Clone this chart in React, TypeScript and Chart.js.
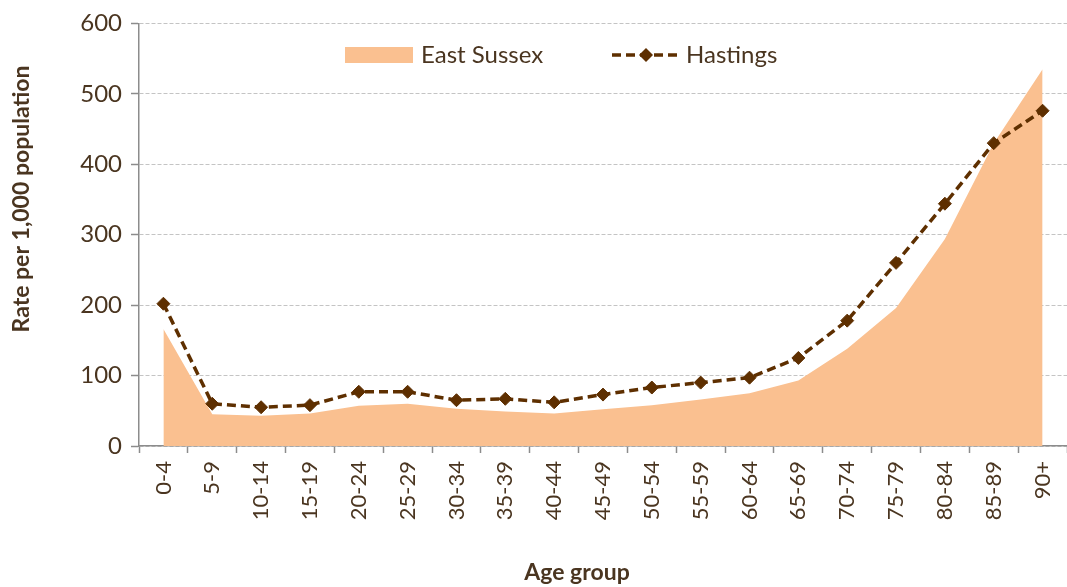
import React, { useEffect, useRef } from "react";
import { Chart, registerables } from "chart.js";

Chart.register(...registerables);

const ageGroups = [
  "0-4", "5-9", "10-14", "15-19", "20-24", "25-29", "30-34", "35-39", "40-44",
  "45-49", "50-54", "55-59", "60-64", "65-69", "70-74", "75-79", "80-84", "85-89", "90+",
];
const eastSussex = [166, 45, 43, 46, 57, 60, 53, 49, 46, 52, 58, 66, 75, 93, 138, 196, 294, 430, 535];
const hastings = [202, 60, 55, 58, 77, 77, 65, 67, 62, 73, 83, 90, 97, 125, 178, 260, 344, 430, 476];
const yMin = 0;
const yMax = 600;
const yStep = 100;

const seriesNames = ["East Sussex", "Hastings"];
const axisTitles = { x: "Age group", y: "Rate per 1,000 population" };

const FILL = "#FAC090";
const LINE = "#5E2F00";
const TEXT = "#4A3520";
const AXIS = "#8C8C8C";
const GRID = "#C4C4C4";
const FONT = "Lato, 'Open Sans', sans-serif";

const overlayPlugin = {
  id: "overlay",
  afterDraw(chart: any) {
    const ctx = chart.ctx as CanvasRenderingContext2D;
    const a = chart.chartArea;
    ctx.save();
    const ly = 55;
    // East Sussex legend
    ctx.fillStyle = FILL;
    ctx.fillRect(a.left + 206, ly - 8, 68, 16);
    ctx.font = `24px ${FONT}`;
    ctx.fillStyle = TEXT;
    ctx.textBaseline = "middle";
    ctx.textAlign = "left";
    ctx.fillText(seriesNames[0], a.left + 282, ly);
    // Hastings legend
    ctx.strokeStyle = LINE;
    ctx.lineWidth = 3.5;
    ctx.setLineDash([9, 5]);
    ctx.beginPath();
    ctx.moveTo(a.left + 473, ly);
    ctx.lineTo(a.left + 541, ly);
    ctx.stroke();
    ctx.setLineDash([]);
    const cx = a.left + 507;
    ctx.fillStyle = LINE;
    ctx.beginPath();
    ctx.moveTo(cx, ly - 7);
    ctx.lineTo(cx + 7, ly);
    ctx.lineTo(cx, ly + 7);
    ctx.lineTo(cx - 7, ly);
    ctx.closePath();
    ctx.fill();
    ctx.fillStyle = TEXT;
    ctx.fillText(seriesNames[1], a.left + 547, ly);
    // Axis titles
    ctx.font = `bold 23px ${FONT}`;
    ctx.textAlign = "center";
    ctx.fillText(axisTitles.x, 577, 573);
    ctx.translate(22, 199);
    ctx.rotate(-Math.PI / 2);
    ctx.fillText(axisTitles.y, 0, 0);
    ctx.restore();
  },
};

export default function App() {
  const ref = useRef<HTMLCanvasElement>(null);

  useEffect(() => {
    if (!ref.current) return;
    const chart = new Chart(ref.current, {
      type: "line",
      data: {
        labels: ageGroups,
        datasets: [
          {
            label: seriesNames[1],
            data: hastings,
            borderColor: LINE,
            backgroundColor: LINE,
            borderWidth: 3.5,
            borderDash: [9, 5],
            pointStyle: "rectRot",
            pointRadius: 6.5,
            pointBorderWidth: 1,
            pointBackgroundColor: LINE,
            pointBorderColor: LINE,
            fill: false,
            tension: 0,
            order: 1,
          },
          {
            label: seriesNames[0],
            data: eastSussex,
            borderWidth: 0,
            borderColor: FILL,
            backgroundColor: FILL,
            pointRadius: 0,
            fill: "origin",
            tension: 0,
            order: 2,
          },
        ],
      },
      options: {
        animation: false,
        responsive: true,
        maintainAspectRatio: false,
        layout: { autoPadding: false, padding: { top: 16, right: 0, bottom: 0, left: 0 } },
        plugins: {
          legend: { display: false },
          tooltip: { enabled: false },
        },
        scales: {
          x: {
            type: "category",
            offset: true,
            grid: {
              offset: true,
              drawOnChartArea: false,
              drawTicks: true,
              tickLength: 7,
              tickColor: AXIS,
              tickWidth: 1.5,
              color: AXIS,
            },
            border: { color: AXIS, width: 1.5 },
            ticks: {
              autoSkip: false,
              minRotation: 90,
              maxRotation: 90,
              padding: 8,
              color: TEXT,
              font: { family: FONT, size: 22 },
            },
            afterFit(s: any) {
              s.height = 141;
              s.paddingLeft = 0;
              s.paddingRight = 0;
            },
          },
          y: {
            min: yMin,
            max: yMax,
            ticks: {
              stepSize: yStep,
              padding: 9,
              color: TEXT,
              font: { family: FONT, size: 24 },
            },
            grid: {
              color: GRID,
              lineWidth: 1,
              drawTicks: true,
              tickLength: 8,
              tickColor: AXIS,
              tickWidth: 1.5,
            },
            border: { color: AXIS, width: 1.5, dash: [4, 2] },
            afterFit(s: any) {
              s.width = 139;
            },
          },
        },
      },
      plugins: [overlayPlugin],
    });
    return () => chart.destroy();
  }, []);

  return (
    <div style={{ position: "fixed", left: 0, top: 0, width: 1067, height: 587, background: "#fff" }}>
      <canvas ref={ref} />
    </div>
  );
}
